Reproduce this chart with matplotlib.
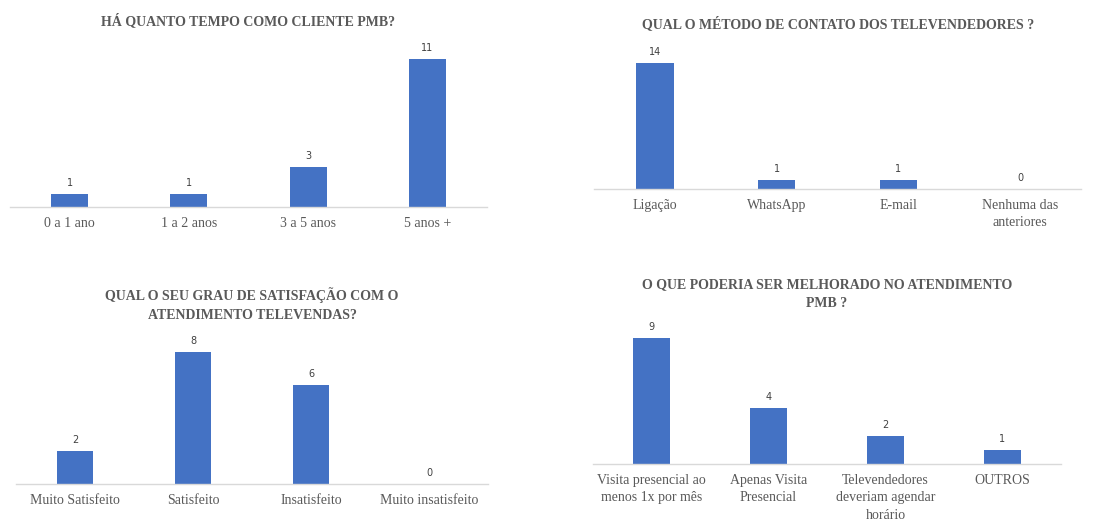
import matplotlib
matplotlib.use("Agg")
import matplotlib.pyplot as plt

# dados dos quatro gráficos
tempo_cat = ["0 a 1 ano", "1 a 2 anos", "3 a 5 anos", "5 anos +"]
tempo_val = [1, 1, 3, 11]

contato_cat = ["Ligação", "WhatsApp", "E-mail", "Nenhuma das\nanteriores"]
contato_val = [14, 1, 1, 0]

satisf_cat = ["Muito Satisfeito", "Satisfeito", "Insatisfeito", "Muito insatisfeito"]
satisf_val = [2, 8, 6, 0]

melhoria_cat = ["Visita presencial ao\nmenos 1x por mês", "Apenas Visita\nPresencial",
                "Televendedores\ndeveriam agendar\nhorário", "OUTROS"]
melhoria_val = [9, 4, 2, 1]

titulos = ["HÁ QUANTO TEMPO COMO CLIENTE PMB?",
           "QUAL O MÉTODO DE CONTATO DOS TELEVENDEDORES ?",
           "QUAL O SEU GRAU DE SATISFAÇÃO COM O\nATENDIMENTO TELEVENDAS?",
           "O QUE PODERIA SER MELHORADO NO ATENDIMENTO\nPMB ?"]

W, H = 1099, 523
BAR = "#4472C4"
TXT = "#595959"

fig = plt.figure(figsize=(W / 100, H / 100), dpi=100)

# layout em pixels: esquerda, direita, linha base, topo, px por unidade
layout = [
    (10, 487, 207, 40, 13.5),
    (594, 1081, 189, 40, 9.0),
    (16, 488, 484, 330, 16.5),
    (593, 1061, 464, 320, 14.0),
]
# topo do bloco de título (centro x, topo y)
tit_pos = [(248, 13), (838, 16), (252, 287), (827, 278)]

dados = [(tempo_cat, tempo_val), (contato_cat, contato_val),
         (satisf_cat, satisf_val), (melhoria_cat, melhoria_val)]

for (cats, vals), (x0, x1, base, top, esc), tit, (tx, ty) in zip(dados, layout, titulos, tit_pos):
    ax = fig.add_axes([x0 / W, 1 - base / H, (x1 - x0) / W, (base - top) / H])
    xs = list(range(len(cats)))
    ax.bar(xs, vals, width=0.31, color=BAR)
    ax.set_xlim(-0.5, len(cats) - 0.5)
    ax.set_ylim(0, (base - top) / esc)

    # rótulos de valor
    for x, v in zip(xs, vals):
        ax.annotate(str(v), (x, v), xytext=(0, 4), textcoords="offset points",
                    ha="center", va="bottom", fontsize=7, color="#404040",
                    family="DejaVu Sans")

    ax.set_xticks(xs)
    ax.set_xticklabels(cats, family="Liberation Serif", fontsize=10,
                       color=TXT, linespacing=1.45)
    ax.tick_params(axis="x", length=0, pad=7)
    ax.set_yticks([])
    for s in ["top", "right", "left"]:
        ax.spines[s].set_visible(False)
    ax.spines["bottom"].set_color("#D9D9D9")
    ax.spines["bottom"].set_linewidth(1)

    fig.text(tx / W, 1 - ty / H, tit, ha="center", va="top",
             family="Liberation Serif", fontweight="bold", fontsize=10,
             color=TXT, linespacing=1.6)

fig.savefig("out.png", dpi=100, facecolor="white")
